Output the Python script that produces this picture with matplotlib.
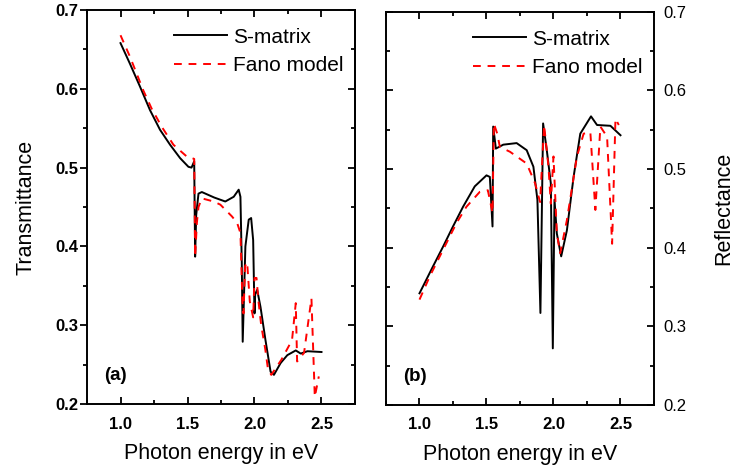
import matplotlib.pyplot as plt
from matplotlib.ticker import MultipleLocator

plt.rcParams['font.family'] = ['Liberation Sans', 'DejaVu Sans']

# (a) transmittance
t_e_smat = [1.0, 1.07, 1.145, 1.22, 1.295, 1.37, 1.445, 1.507, 1.53, 1.55, 1.557, 1.565, 1.582,
            1.607, 1.7, 1.782, 1.845, 1.882, 1.895, 1.905, 1.912, 1.932, 1.957, 1.975, 1.99,
            2.0, 2.005, 2.02, 2.045, 2.082, 2.12, 2.145, 2.195, 2.245, 2.308, 2.345, 2.395, 2.5]
t_smat = [0.658, 0.632, 0.603, 0.573, 0.548, 0.529, 0.512, 0.501, 0.500, 0.508, 0.387, 0.440, 0.467,
          0.469, 0.462, 0.457, 0.463, 0.472, 0.463, 0.380, 0.279, 0.400, 0.434, 0.436, 0.408,
          0.315, 0.339, 0.345, 0.323, 0.281, 0.241, 0.237, 0.252, 0.262, 0.268, 0.264, 0.267, 0.266]
t_e_fano = [1.0, 1.07, 1.17, 1.232, 1.307, 1.395, 1.495, 1.535, 1.55, 1.557, 1.57, 1.582, 1.607,
            1.695, 1.745, 1.832, 1.87, 1.895, 1.91, 1.918, 1.93, 1.945, 1.965, 1.99, 2.0, 2.015,
            2.03, 2.05, 2.08, 2.1, 2.125, 2.2, 2.28, 2.308, 2.318, 2.37, 2.425, 2.45, 2.48]
t_fano = [0.668, 0.641, 0.598, 0.575, 0.552, 0.529, 0.514, 0.512, 0.511, 0.387, 0.430, 0.450, 0.461,
          0.457, 0.453, 0.438, 0.430, 0.417, 0.330, 0.315, 0.375, 0.380, 0.330, 0.310, 0.360, 0.360,
          0.330, 0.300, 0.270, 0.245, 0.237, 0.256, 0.281, 0.328, 0.254, 0.265, 0.334, 0.209, 0.235]

# (b) reflectance
r_e_smat = [1.0, 1.1, 1.175, 1.25, 1.325, 1.4125, 1.5, 1.525, 1.545, 1.55, 1.57, 1.625, 1.725,
            1.8, 1.85, 1.88, 1.9025, 1.9225, 1.95, 1.98, 1.995, 2.0075, 2.025, 2.0575, 2.1,
            2.15, 2.2, 2.28, 2.325, 2.425, 2.5]
r_smat = [0.342, 0.376, 0.401, 0.427, 0.452, 0.478, 0.492, 0.490, 0.427, 0.554, 0.526, 0.531, 0.533,
          0.524, 0.503, 0.461, 0.317, 0.558, 0.524, 0.482, 0.272, 0.461, 0.418, 0.389, 0.422,
          0.490, 0.545, 0.567, 0.556, 0.555, 0.543]
r_e_fano = [1.0, 1.075, 1.175, 1.275, 1.35, 1.45, 1.51, 1.525, 1.545, 1.555, 1.58, 1.6, 1.675,
            1.8, 1.8625, 1.9, 1.93, 1.9625, 1.98, 2.0, 2.025, 2.05, 2.1, 2.175, 2.225, 2.275,
            2.3125, 2.35, 2.4, 2.4375, 2.4625, 2.4875]
r_fano = [0.334, 0.363, 0.397, 0.431, 0.452, 0.471, 0.473, 0.461, 0.444, 0.558, 0.545, 0.528, 0.522,
          0.507, 0.482, 0.458, 0.556, 0.503, 0.456, 0.516, 0.418, 0.393, 0.435, 0.516, 0.545, 0.547,
          0.448, 0.554, 0.541, 0.405, 0.564, 0.556]

fig = plt.figure(figsize=(7.33, 4.70), dpi=100)
ax1 = fig.add_axes([0.1187, 0.1404, 0.3656, 0.8383])
ax2 = fig.add_axes([0.5266, 0.1383, 0.3656, 0.8367])

panels = [(ax1, t_e_smat, t_smat, t_e_fano, t_fano, '(a)'),
          (ax2, r_e_smat, r_smat, r_e_fano, r_fano, '(b)')]

for ax, xs, ys, xf, yf, tag in panels:
    ax.plot(xs, ys, color='black', lw=1.4, label='S-matrix')
    ax.plot(xf, yf, color='red', lw=1.4, ls=(0, (4, 3.5)), label='Fano model')
    ax.set_xlim(0.75, 2.75)
    ax.set_ylim(0.2, 0.7)
    ax.xaxis.set_major_locator(MultipleLocator(0.5))
    ax.xaxis.set_minor_locator(MultipleLocator(0.25))
    ax.yaxis.set_major_locator(MultipleLocator(0.1))
    ax.yaxis.set_minor_locator(MultipleLocator(0.05))
    ax.tick_params(which='both', direction='in', top=True, right=True, left=True, bottom=True,
                   width=1.3, labelsize=12)
    ax.tick_params(which='major', length=5)
    ax.tick_params(which='minor', length=3)
    ax.tick_params(axis='x', pad=9)
    for s in ax.spines.values():
        s.set_linewidth(1.4)
    for lbl in ax.get_xticklabels() + ax.get_yticklabels():
        lbl.set_fontweight('bold')
    ax.set_xlabel('Photon energy in eV', fontsize=15.5, labelpad=8)
    ax.text(0.065, 0.06, tag, transform=ax.transAxes, fontsize=13.5, fontweight='bold')
    ax.legend(loc='upper right', bbox_to_anchor=(1.0, 0.984), frameon=False, fontsize=15,
              handlelength=2.55, handletextpad=0.3, labelspacing=0.45, borderaxespad=0.15)

# left panel: outward ticks on the left spine, inward on the right spine
ax1.tick_params(axis='y', which='both', direction='out', right=False, pad=1)
ax1.set_ylabel('Transmittance', fontsize=15.5, labelpad=14)
sec = ax1.secondary_yaxis('right')
sec.yaxis.set_major_locator(MultipleLocator(0.1))
sec.yaxis.set_minor_locator(MultipleLocator(0.05))
sec.tick_params(which='both', direction='in', labelright=False, width=1.3)
sec.tick_params(which='major', length=5)
sec.tick_params(which='minor', length=3)
sec.spines['right'].set_linewidth(1.4)

ax2.tick_params(axis='y', which='both', labelleft=False, labelright=True, pad=7)
ax2.yaxis.set_label_position('right')
ax2.set_ylabel('Reflectance', fontsize=15.5, labelpad=19)

fig.savefig('out.png', dpi=100)
